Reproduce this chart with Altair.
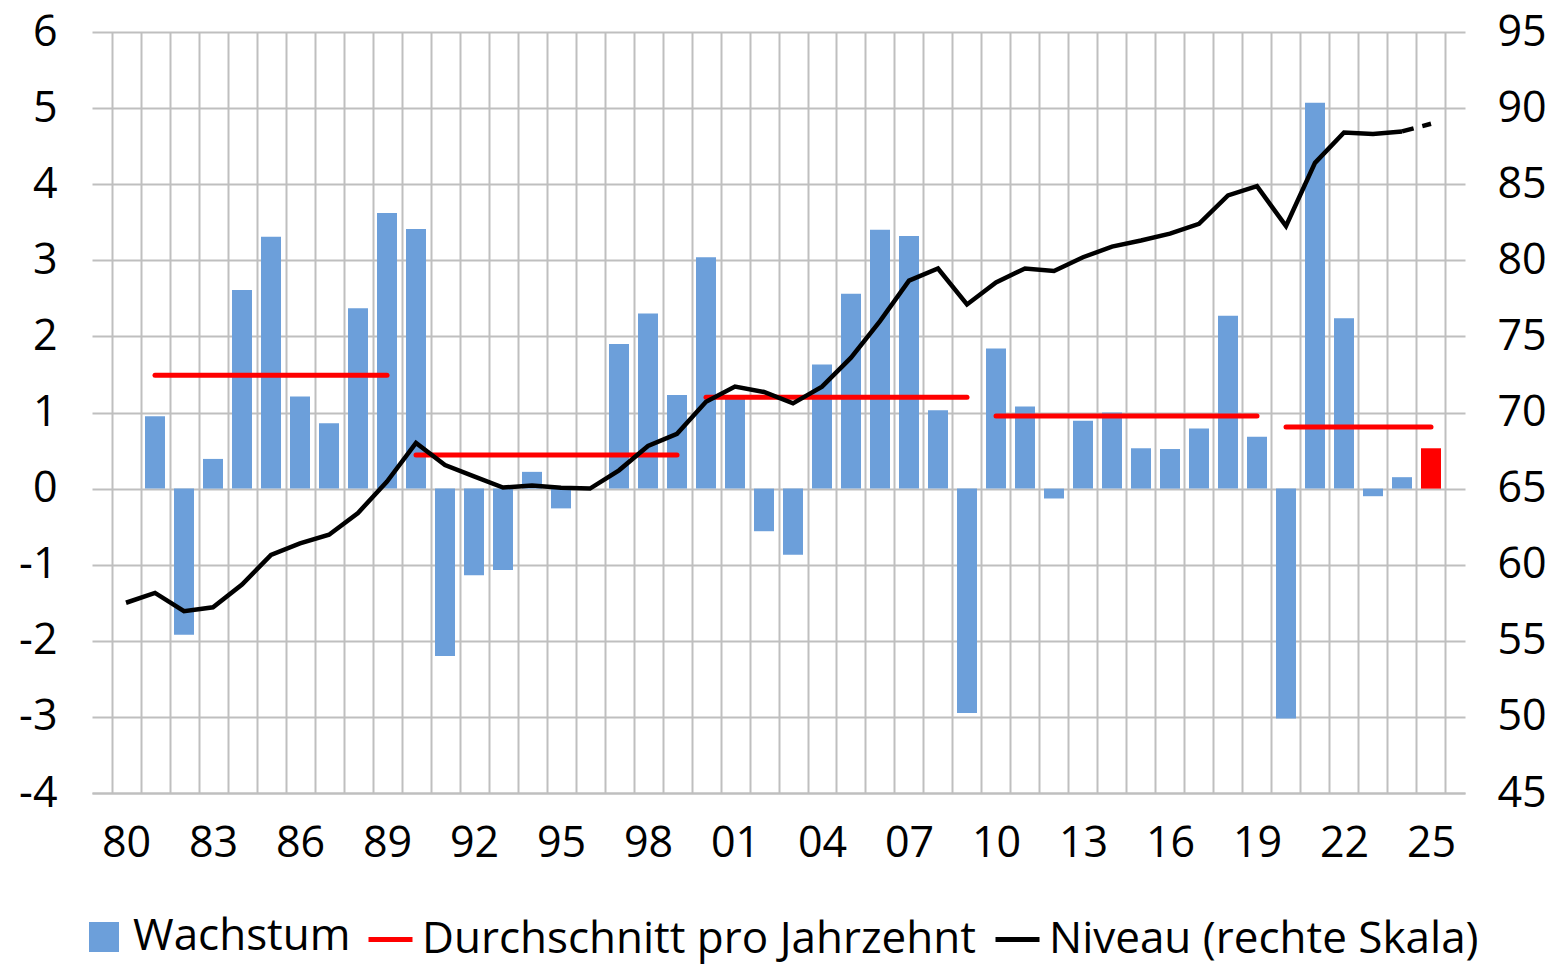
import altair as alt
import pandas as pd

# ---- data ----
level_years = list(range(1980, 2026))
level_values = [57.5, 58.15, 56.95, 57.2, 58.7, 60.65, 61.4, 61.97, 63.4, 65.46,
                68.0, 66.55, 65.8, 65.07, 65.2, 65.05, 65.0, 66.2, 67.8, 68.6,
                70.7, 71.7, 71.35, 70.6, 71.7, 73.6, 76.0, 78.66, 79.46, 77.1,
                78.55, 79.46, 79.3, 80.2, 80.9, 81.3, 81.75, 82.4, 84.26, 84.87,
                82.25, 86.4, 88.4, 88.3, 88.47, 88.97]

growth_years = list(range(1981, 2026))
growth_values = [0.95, -1.92, 0.39, 2.61, 3.31, 1.21, 0.86, 2.37, 3.62,
                 3.41, -2.20, -1.14, -1.07, 0.22, -0.26, 0.0, 1.90, 2.30, 1.23,
                 3.04, 1.19, -0.56, -0.87, 1.63, 2.56, 3.40, 3.32, 1.03, -2.95,
                 1.84, 1.08, -0.13, 0.89, 1.00, 0.53, 0.52, 0.79, 2.27, 0.68,
                 -3.02, 5.07, 2.24, -0.10, 0.15, 0.53]

decade_start = [1981, 1990, 2000, 2010, 2020]
decade_end = [1989, 1999, 2009, 2019, 2025]
decade_avg = [1.49, 0.44, 1.20, 0.955, 0.81]

x_label_years = list(range(1980, 2026, 3))
x_grid_years = [y + 0.5 for y in range(1979, 2026)]
left_ticks = list(range(-4, 7))
right_ticks = list(range(45, 96, 5))

S_GROWTH = "Wachstum"
S_AVG = "Durchschnitt pro Jahrzehnt"
S_LEVEL = "Niveau (rechte Skala)"

growth_df = pd.DataFrame({"year": growth_years, "value": growth_values, "series": S_GROWTH})
avg_df = pd.DataFrame({"start": decade_start, "end": decade_end, "avg": decade_avg, "series": S_AVG})
level_df = pd.DataFrame({"year": level_years, "level": level_values, "series": S_LEVEL})

FONT = "Open Sans"
FS = 43
LFS = 44
GRID = "#BFBFBF"
BLUE = "#6C9FDA"

xscale = alt.Scale(domain=[1979, 2026], nice=False, zero=False)
yscale_l = alt.Scale(domain=[-4, 6], nice=False, zero=False)
yscale_r = alt.Scale(domain=[45, 95], nice=False, zero=False)

x_label_axis = alt.Axis(values=x_label_years, labelExpr="substring(toString(datum.value), 2)",
                        title=None, grid=False, ticks=False, domain=True, domainColor=GRID,
                        domainWidth=2, labelFont=FONT, labelFontSize=FS, labelColor="black",
                        labelPadding=29, labelFlush=False, labelOverlap=False, orient="bottom")
x_grid_axis = alt.Axis(values=x_grid_years, title=None, grid=True, gridColor=GRID, gridWidth=2,
                       labels=False, ticks=False, domain=False, orient="bottom")
y_left_axis = alt.Axis(values=left_ticks, labelExpr="toString(datum.value)", title=None,
                       grid=True, gridColor=GRID, gridWidth=2, domain=False, ticks=False,
                       labelFont=FONT, labelFontSize=FS, labelColor="black", labelPadding=35,
                       labelFlush=False, orient="left")
y_right_axis = alt.Axis(values=right_ticks, title=None, grid=False, domain=False, ticks=False,
                        labelFont=FONT, labelFontSize=FS, labelColor="black", labelPadding=32,
                        labelFlush=False, orient="right")


def leg(x, y, shape, size, offset=7):
    return alt.Legend(title=None, orient="none", legendX=x, legendY=y, symbolType=shape,
                      symbolSize=size, symbolStrokeWidth=5, labelFont=FONT, labelFontSize=LFS,
                      labelColor="black", labelLimit=2000, labelOffset=offset, padding=0)


LEG_Y = 883

bars = alt.Chart(growth_df).mark_bar(size=20).encode(
    x=alt.X("year:Q", scale=xscale, axis=x_label_axis),
    y=alt.Y("value:Q", scale=yscale_l, axis=y_left_axis),
    y2=alt.datum(0),
    color=alt.condition("datum.year == 2025", alt.value("#FF0000"),
                        alt.Color("series:N", scale=alt.Scale(domain=[S_GROWTH], range=[BLUE]),
                                  legend=leg(-10, LEG_Y, "square", 900))),
)

avg_rules = alt.Chart(avg_df).mark_rule(strokeWidth=5, strokeCap="round").encode(
    x=alt.X("start:Q", scale=xscale, axis=x_grid_axis),
    x2="end:Q",
    y=alt.Y("avg:Q", scale=yscale_l, axis=None),
    color=alt.Color("series:N", scale=alt.Scale(domain=[S_AVG], range=["#FF0000"]),
                    legend=leg(274, LEG_Y, "stroke", 1936)),
)

line_solid = alt.Chart(level_df).transform_filter("datum.year <= 2024").mark_line(
    strokeWidth=4.5).encode(
    x=alt.X("year:Q", scale=xscale, axis=None),
    y=alt.Y("level:Q", scale=yscale_r, axis=y_right_axis),
    color=alt.Color("series:N", scale=alt.Scale(domain=[S_LEVEL], range=["#000000"]),
                    legend=leg(901, LEG_Y, "stroke", 1936)),
)

line_dash = alt.Chart(level_df).transform_filter("datum.year >= 2024").mark_line(
    strokeWidth=4.5, color="#000000", strokeDash=[12, 9]).encode(
    x=alt.X("year:Q", scale=xscale, axis=None),
    y=alt.Y("level:Q", scale=yscale_r, axis=None),
)

chart = alt.layer(bars, avg_rules, line_solid, line_dash).resolve_scale(
    y="independent", color="independent"
).resolve_axis(
    x="independent", y="independent"
).properties(
    width=1373, height=761,
    autosize=alt.AutoSizeParams(type="none"),
    padding={"left": 84, "top": 24, "right": 85, "bottom": 171},
).configure_view(stroke="transparent")

chart.save("out.html", embed_options={"renderer": "svg", "actions": False})
